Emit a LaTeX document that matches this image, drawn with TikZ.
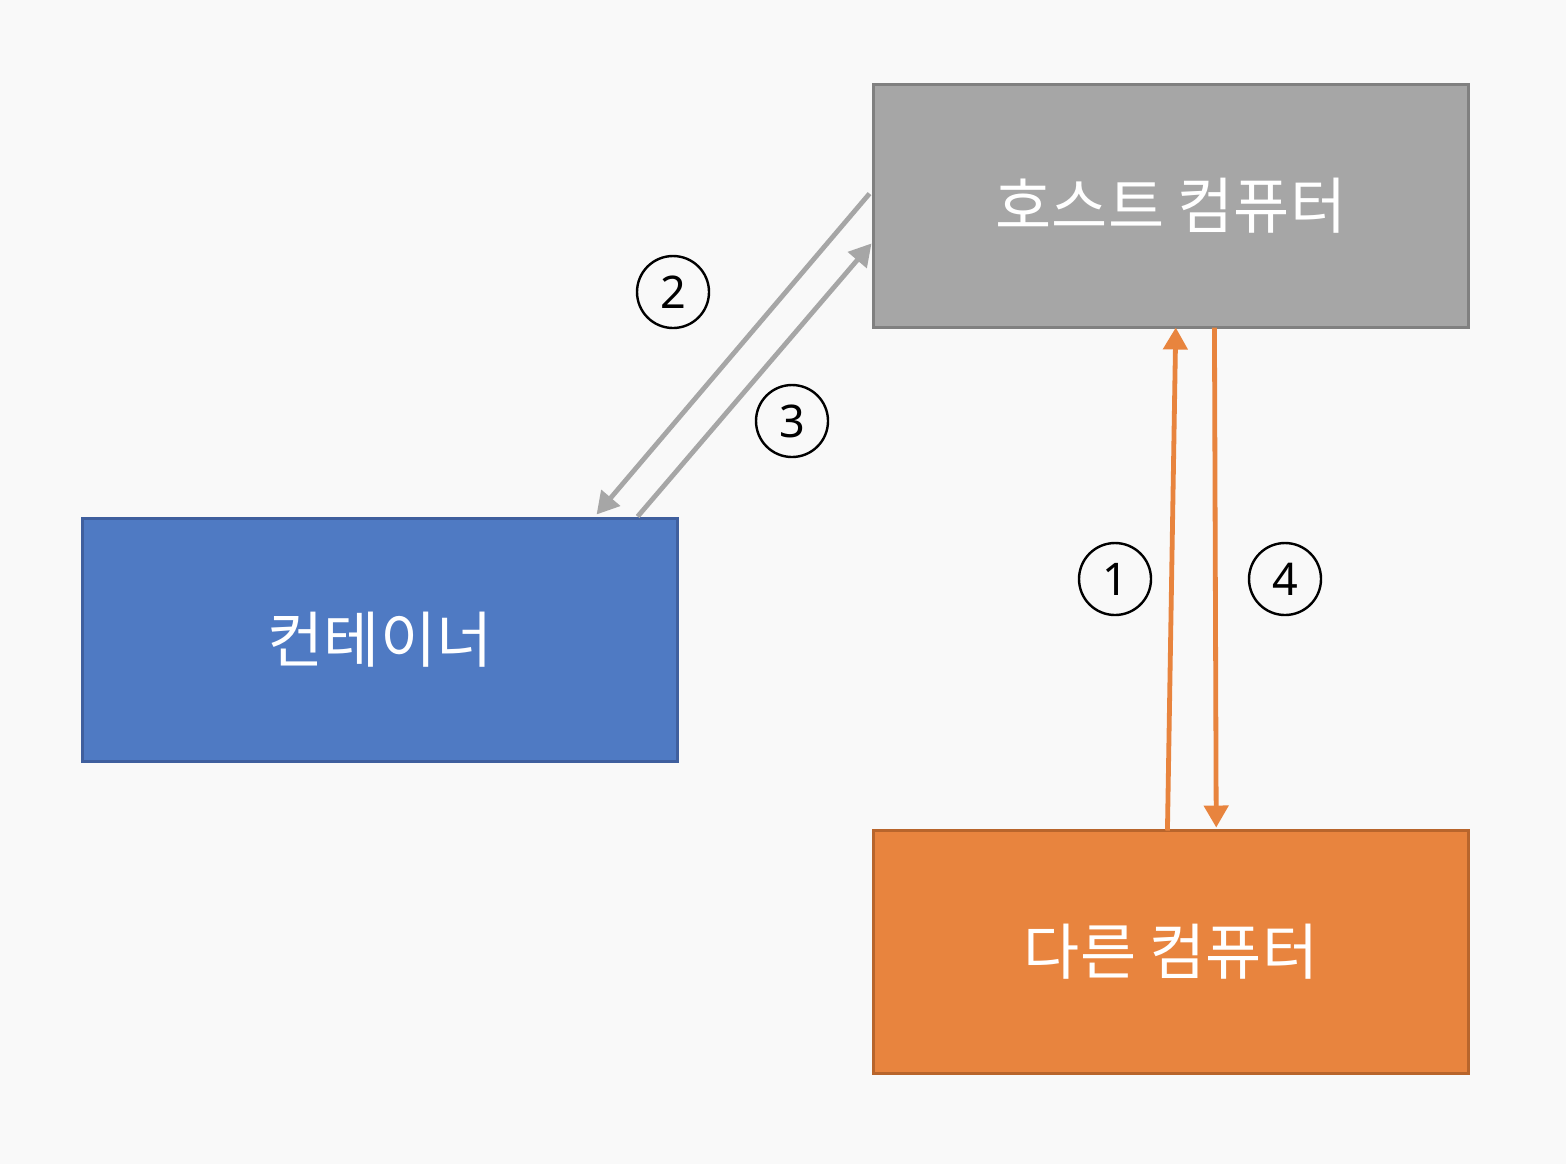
\documentclass[tikz,border=0pt]{standalone}
\usepackage{fontspec}
\setmainfont{Noto Sans}
\newfontfamily\kr{Noto Sans CJK KR}
\usetikzlibrary{calc,arrows.meta}
\definecolor{bg}{HTML}{F9F9F9}
\definecolor{hostfill}{HTML}{A6A6A6}
\definecolor{hostdraw}{HTML}{808080}
\definecolor{contfill}{HTML}{4F7AC3}
\definecolor{contdraw}{HTML}{3F5F9E}
\definecolor{othfill}{HTML}{E8843E}
\definecolor{othdraw}{HTML}{B8652C}
\definecolor{garrow}{HTML}{A6A6A6}
\definecolor{oarrow}{HTML}{E8843E}
\tikzset{
  boxnode/.style={draw, line width=1.5pt, outer sep=0pt, minimum width=297.5pt, minimum height=121.5pt, inner sep=0pt, anchor=north west, text=white, font=\kr\fontsize{30.5}{36}\selectfont},
  numcircle/.style={circle, draw=black, line width=1.2pt, minimum size=36pt, inner sep=0pt, font=\fontsize{22.5}{26}\selectfont},
  conn/.style={line width=2.4pt, -{Triangle[length=11pt,width=12pt]}},
}
\begin{document}
\begin{tikzpicture}[x=0.5pt,y=-0.5pt]
\fill[bg] (0,0) rectangle (1566,1164);
\useasboundingbox (0,0) rectangle (1566,1164);
\node[boxnode, fill=hostfill, draw=hostdraw] (host) at (873.5,84.5) {호스트 컴퓨터};
\node[boxnode, fill=contfill, draw=contdraw] (cont) at (82.5,518.5) {컨테이너};
\node[boxnode, fill=othfill, draw=othdraw] (oth) at (873.5,830.5) {다른 컴퓨터};
% gray arrows
\coordinate (h2) at ($(host.north west)!0.449!(host.south west)+(-4,0)$);
\coordinate (c2) at ($(cont.north west)!0.864!(cont.north east)+(0,-4)$);
\coordinate (c3) at ($(cont.north west)!0.933!(cont.north east)+(0,-2)$);
\coordinate (h3) at ($(host.north west)!0.654!(host.south west)+(-2,0)$);
\draw[conn, garrow] (h2) -- (c2);
\draw[conn, garrow] (c3) -- (h3);
% orange arrows
\coordinate (o1) at ($(oth.north west)!0.494!(oth.north east)$);
\coordinate (h1) at ($(host.south west)!0.508!(host.south east)$);
\coordinate (h4) at ($(host.south west)!0.573!(host.south east)$);
\coordinate (o4) at ($(oth.north west)!0.576!(oth.north east)+(0,-3)$);
\draw[conn, oarrow] (o1) -- (h1);
\draw[conn, oarrow] (h4) -- (o4);
% numbers
\node[numcircle] (n2) at (673,292) {\raisebox{-1.5pt}{2}};
\node[numcircle] (n3) at (792,421) {\raisebox{-1.5pt}{3}};
\node[numcircle] (n1) at (1115,579) {\raisebox{-1.5pt}{1}};
\node[numcircle] (n4) at (1285,579) {\raisebox{-1.5pt}{4}};
\end{tikzpicture}
\end{document}
